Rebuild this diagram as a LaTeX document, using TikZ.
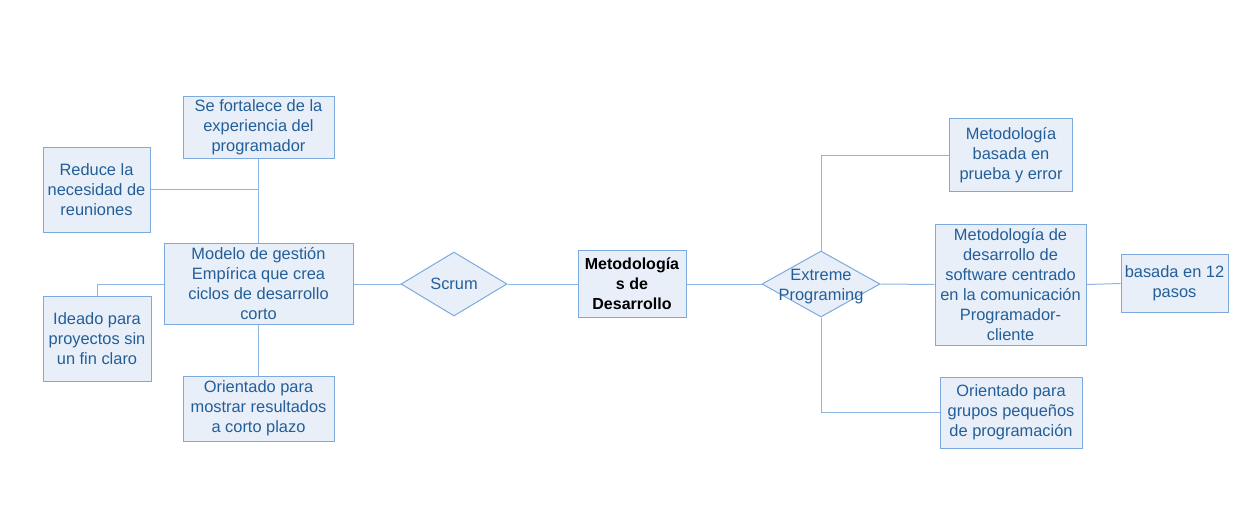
\documentclass[tikz,border=0pt]{standalone}
\usepackage{fontspec}
\setmainfont{Liberation Sans}
\usetikzlibrary{shapes.geometric}
\definecolor{boxfill}{RGB}{232,239,249}
\definecolor{boxline}{RGB}{125,170,222}
\definecolor{linkline}{RGB}{141,180,226}
\definecolor{boxtext}{RGB}{36,94,152}
\begin{document}
\begin{tikzpicture}[x=1pt, y=-1pt,
    box/.style={draw=boxline, fill=boxfill, line width=1pt, inner sep=1pt,
        align=center, text=boxtext, font=\fontsize{16.4}{20}\selectfont},
    rombo/.style={diamond, draw=boxline, fill=boxfill, line width=1pt, inner sep=0pt},
    lbl/.style={align=center, text=boxtext, font=\fontsize{16.4}{20}\selectfont},
    link/.style={draw=linkline, line width=1pt}]
    \useasboundingbox (0,0) rectangle (1248,527);

    % Centre
    \node[box, minimum width=108, minimum height=67, text=black,
        font=\fontsize{16}{20}\selectfont\bfseries] (meto) at (632,284)
        {Metodología\\s de\\Desarrollo};

    % Scrum branch
    \node[rombo, minimum width=106, minimum height=64,
        label={[lbl]center:Scrum}] (scrum) at (454,284) {};
    \node[box, minimum width=189, minimum height=81] (modelo) at (258.5,284)
        {Modelo de gestión\\Empírica que crea\\ciclos de desarrollo\\corto};
    \node[box, minimum width=151, minimum height=62] (fortalece) at (258.5,127)
        {Se fortalece de la\\experiencia del\\programador};
    \node[box, minimum width=107, minimum height=85] (reduce) at (96.5,189.5)
        {Reduce la\\necesidad de\\reuniones};
    \node[box, minimum width=108, minimum height=85] (ideado) at (97,338.5)
        {Ideado para\\proyectos sin\\un fin claro};
    \node[box, minimum width=151, minimum height=65] (orientado) at (258.5,408.5)
        {Orientado para\\mostrar resultados\\a corto plazo};

    % Extreme Programing branch
    \node[rombo, minimum width=118, minimum height=66,
        label={[lbl, yshift=-2.5pt]center:Extreme\\Programing}] (xp) at (821,284) {};
    \node[box, minimum width=123, minimum height=73] (prueba) at (1011,155)
        {Metodología\\basada en\\prueba y error};
    \node[box, minimum width=151, minimum height=121] (comun) at (1010.5,284.5)
        {Metodología de\\desarrollo de\\software centrado\\en la comunicación\\Programador-\\cliente};
    \node[box, minimum width=107, minimum height=58] (pasos) at (1174.5,283.5)
        {basada en 12\\pasos};
    \node[box, minimum width=142, minimum height=71] (grupos) at (1011,412.5)
        {Orientado para\\grupos pequeños\\de programación};

    % Connectors
    \draw[link] (modelo.east) -- (scrum.west);
    \draw[link] (scrum.east) -- (meto.west);
    \draw[link] (meto.east) -- (xp.west);
    \draw[link] (fortalece.south) -- (modelo.north);
    \draw[link] (reduce.east) -- (reduce.east -| fortalece.south);
    \draw[link] (ideado.north) |- (modelo.west);
    \draw[link] (orientado.north) -- (modelo.south);
    \draw[link] (xp.north) |- (prueba.west);
    \draw[link] (xp.east) -- (comun.west);
    \draw[link] (comun.east) -- (pasos.west);
    \draw[link] (xp.south) |- (grupos.west);
\end{tikzpicture}
\end{document}
